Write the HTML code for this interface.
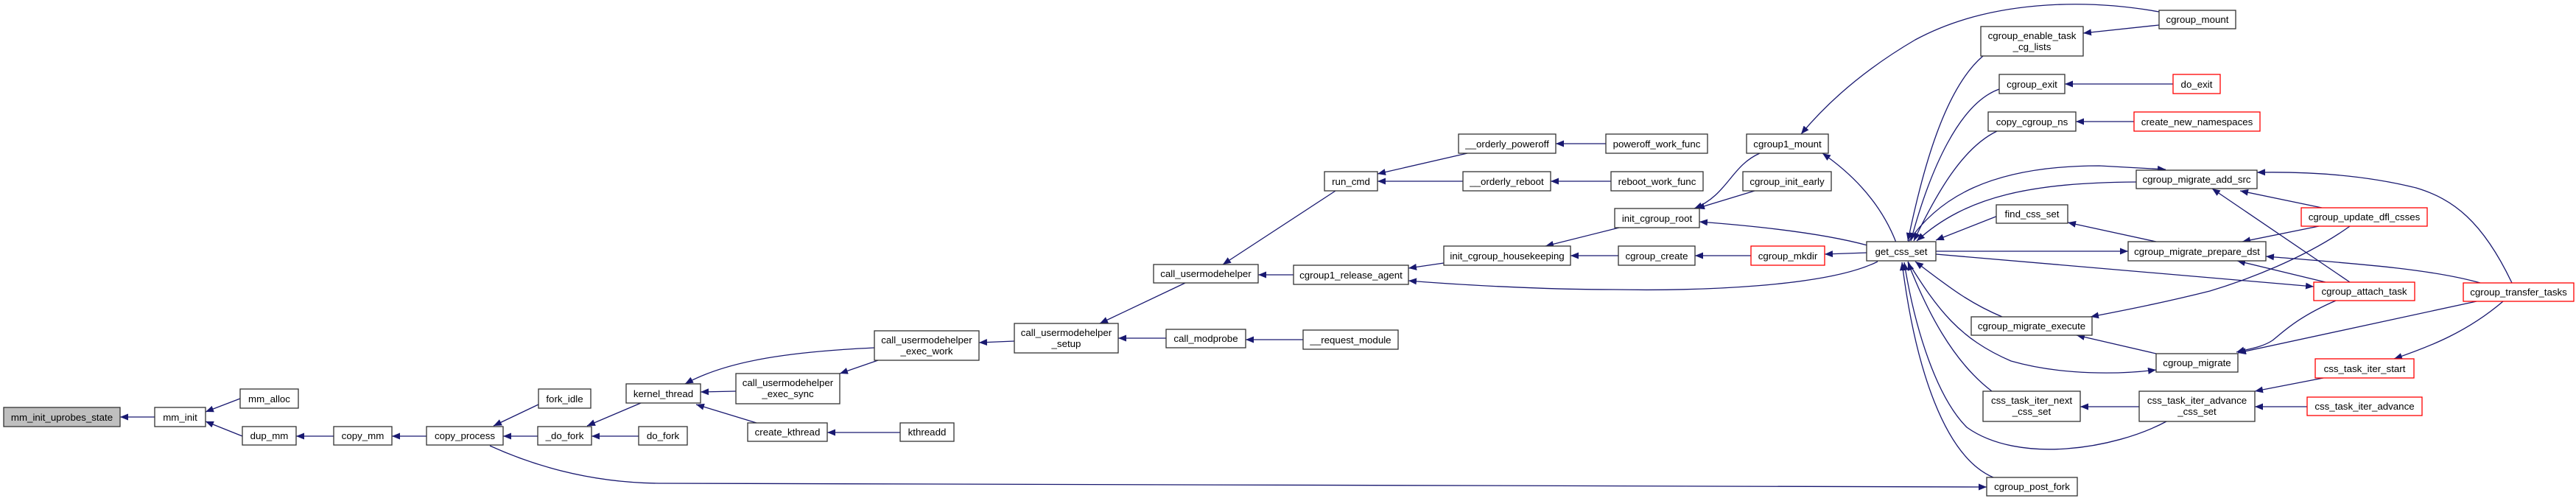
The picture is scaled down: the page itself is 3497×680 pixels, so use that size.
<!DOCTYPE html>
<html><head><meta charset="utf-8"><style>
html,body{margin:0;padding:0;background:#fff;}
svg{display:block;}
text{font-family:"Liberation Sans",sans-serif;font-size:13.3px;fill:#000;text-anchor:middle;}
.b{fill:#fff;stroke:#333;stroke-width:1.3;}
.r{fill:#fff;stroke:#ff0000;stroke-width:1.3;}
.g{fill:#bfbfbf;stroke:#333;stroke-width:1.3;}
.e{fill:none;stroke:#191970;stroke-width:1.3;marker-end:url(#a);}
</style></head><body>
<svg width="3497" height="680" viewBox="0 0 3497 680" xmlns="http://www.w3.org/2000/svg">
<defs><marker id="a" markerUnits="userSpaceOnUse" markerWidth="12" markerHeight="10" refX="11" refY="4.5" orient="auto"><path d="M0,0 L11,4.5 L0,9 z" fill="#191970"/></marker></defs>
<g>
<path class="e" d="M210,566 L163,566"/>
<path class="e" d="M326,541 L279,559"/>
<path class="e" d="M329,592 L279,572"/>
<path class="e" d="M453,592 L402,592"/>
<path class="e" d="M579,592 L532,592"/>
<path class="e" d="M731,549 L670,578"/>
<path class="e" d="M730,592 L683,592"/>
<path class="e" d="M665,605 C720,630 800,656 900,656 L2697,661"/>
<path class="e" d="M867,592 L803,592"/>
<path class="e" d="M870,547 L797,578"/>
<path class="e" d="M999,531 L951,532"/>
<path class="e" d="M1027,574 L945,549"/>
<path class="e" d="M1222,587 L1123,587"/>
<path class="e" d="M1187,472 C1080,477 990,488 930,521"/>
<path class="e" d="M1192,489 L1140,507"/>
<path class="e" d="M1377,463 L1329,465"/>
<path class="e" d="M1609,384 L1493,439"/>
<path class="e" d="M1583,459 L1518,459"/>
<path class="e" d="M1813,259 L1660,359"/>
<path class="e" d="M1756,373 L1708,373"/>
<path class="e" d="M1769,461 L1691,461"/>
<path class="e" d="M1992,208 L1870,236"/>
<path class="e" d="M1986,246 L1870,246"/>
<path class="e" d="M2180,195 L2112,195"/>
<path class="e" d="M2187,246 L2105,246"/>
<path class="e" d="M1960,357 L1912,364"/>
<path class="e" d="M2549,355 C2480,390 2300,395 2190,393 C2080,393 1960,385 1912,381"/>
<path class="e" d="M2198,309 L2098,334"/>
<path class="e" d="M2197,347 L2132,347"/>
<path class="e" d="M2377,347 L2301,347"/>
<path class="e" d="M2535,343 L2477,345"/>
<path class="e" d="M2535,333 C2480,318 2400,308 2307,301"/>
<path class="e" d="M2389,208 C2350,225 2345,265 2300,283"/>
<path class="e" d="M2382,259 L2303,283"/>
<path class="e" d="M2574,329 C2555,280 2520,240 2474,208"/>
<path class="e" d="M2931,16 C2830,-2 2700,0 2600,54 C2530,95 2480,140 2445,182"/>
<path class="e" d="M2931,34 L2828,45"/>
<path class="e" d="M2950,114 L2803,114"/>
<path class="e" d="M2897,165 L2818,165"/>
<path class="e" d="M2692,76 C2640,120 2610,230 2590,327"/>
<path class="e" d="M2714,121 C2660,140 2620,230 2594,327"/>
<path class="e" d="M2711,178 C2665,200 2630,260 2598,327"/>
<path class="e" d="M2900,247 C2760,248 2670,265 2602,327"/>
<path class="e" d="M2590,329 C2630,270 2700,225 2850,225 L2940,230"/>
<path class="e" d="M2712,293 L2628,326"/>
<path class="e" d="M2628,341 L2889,341"/>
<path class="e" d="M2628,345 L3141,389"/>
<path class="e" d="M2718,430 C2670,410 2640,385 2600,355"/>
<path class="e" d="M2590,355 C2630,420 2660,460 2730,490 C2800,510 2880,508 2927,502"/>
<path class="e" d="M2704,531 C2650,490 2615,420 2590,356"/>
<path class="e" d="M2941,572 C2870,610 2740,630 2670,580 C2630,540 2600,450 2585,356"/>
<path class="e" d="M2706,648 C2640,620 2600,500 2582,356"/>
<path class="e" d="M2927,328 L2807,302"/>
<path class="e" d="M3148,307 L3044,328"/>
<path class="e" d="M3152,282 L3041,259"/>
<path class="e" d="M3190,307 C3130,350 3050,380 3000,395 C2940,410 2890,420 2838,430"/>
<path class="e" d="M3190,383 L3003,256"/>
<path class="e" d="M3157,383 L3037,354"/>
<path class="e" d="M3171,408 C3120,430 3100,450 3085,462 C3070,472 3050,474 3036,478"/>
<path class="e" d="M3410,384 C3370,300 3330,270 3280,255 C3200,235 3120,233 3064,234"/>
<path class="e" d="M3367,384 C3300,365 3200,358 3076,348"/>
<path class="e" d="M3362,409 L3038,479"/>
<path class="e" d="M3398,409 C3350,450 3300,470 3250,487"/>
<path class="e" d="M3154,513 L3061,531"/>
<path class="e" d="M3132,552 L3061,552"/>
<path class="e" d="M2904,552 L2824,552"/>
<path class="e" d="M2927,480 L2819,455"/>
</g>
<g>
<rect class="g" x="5" y="553" width="158" height="26"/><text x="84" y="571">mm_init_uprobes_state</text>
<rect class="b" x="210" y="553" width="69" height="26"/><text x="244.5" y="571">mm_init</text>
<rect class="b" x="326" y="528" width="79" height="26"/><text x="365.5" y="546">mm_alloc</text>
<rect class="b" x="329" y="579" width="73" height="25"/><text x="365.5" y="596">dup_mm</text>
<rect class="b" x="453" y="579" width="79" height="25"/><text x="492.5" y="596">copy_mm</text>
<rect class="b" x="579" y="579" width="104" height="25"/><text x="631" y="596">copy_process</text>
<rect class="b" x="731" y="528" width="71" height="26"/><text x="766.5" y="546">fork_idle</text>
<rect class="b" x="730" y="579" width="73" height="25"/><text x="766.5" y="596">_do_fork</text>
<rect class="b" x="867" y="579" width="66" height="25"/><text x="900" y="596">do_fork</text>
<rect class="b" x="850" y="521" width="101" height="26"/><text x="900.5" y="539">kernel_thread</text>
<rect class="b" x="999" y="507" width="141" height="41"/><text x="1069.5" y="524">call_usermodehelper</text><text x="1069.5" y="539">_exec_sync</text>
<rect class="b" x="1015" y="574" width="108" height="25"/><text x="1069" y="591">create_kthread</text>
<rect class="b" x="1222" y="574" width="73" height="25"/><text x="1258.5" y="591">kthreadd</text>
<rect class="b" x="1187" y="449" width="142" height="40"/><text x="1258" y="466">call_usermodehelper</text><text x="1258" y="481">_exec_work</text>
<rect class="b" x="1377" y="439" width="141" height="40"/><text x="1447.5" y="456">call_usermodehelper</text><text x="1447.5" y="471">_setup</text>
<rect class="b" x="1566" y="359" width="142" height="25"/><text x="1637" y="376">call_usermodehelper</text>
<rect class="b" x="1583" y="447" width="108" height="25"/><text x="1637" y="464">call_modprobe</text>
<rect class="b" x="1769" y="448" width="129" height="26"/><text x="1833.5" y="466">__request_module</text>
<rect class="b" x="1798" y="233" width="72" height="26"/><text x="1834" y="251">run_cmd</text>
<rect class="b" x="1980" y="182" width="132" height="26"/><text x="2046" y="200">__orderly_poweroff</text>
<rect class="b" x="2180" y="182" width="138" height="26"/><text x="2249" y="200">poweroff_work_func</text>
<rect class="b" x="1986" y="233" width="119" height="26"/><text x="2045.5" y="251">__orderly_reboot</text>
<rect class="b" x="2187" y="233" width="125" height="26"/><text x="2249.5" y="251">reboot_work_func</text>
<rect class="b" x="1756" y="360" width="156" height="26"/><text x="1834" y="378">cgroup1_release_agent</text>
<rect class="b" x="1960" y="334" width="172" height="26"/><text x="2046" y="352">init_cgroup_housekeeping</text>
<rect class="b" x="2197" y="334" width="104" height="26"/><text x="2249" y="352">cgroup_create</text>
<rect class="r" x="2377" y="334" width="100" height="26"/><text x="2427" y="352">cgroup_mkdir</text>
<rect class="b" x="2192" y="283" width="115" height="26"/><text x="2249.5" y="301">init_cgroup_root</text>
<rect class="b" x="2371" y="182" width="111" height="26"/><text x="2426.5" y="200">cgroup1_mount</text>
<rect class="b" x="2366" y="233" width="120" height="26"/><text x="2426" y="251">cgroup_init_early</text>
<rect class="b" x="2534" y="328" width="94" height="26"/><text x="2581" y="346">get_css_set</text>
<rect class="b" x="2931" y="14" width="104" height="25"/><text x="2983" y="31">cgroup_mount</text>
<rect class="b" x="2689" y="36" width="139" height="40"/><text x="2758.5" y="53">cgroup_enable_task</text><text x="2758.5" y="68">_cg_lists</text>
<rect class="b" x="2714" y="101" width="89" height="26"/><text x="2758.5" y="119">cgroup_exit</text>
<rect class="r" x="2950" y="101" width="64" height="26"/><text x="2982" y="119">do_exit</text>
<rect class="b" x="2699" y="152" width="119" height="26"/><text x="2758.5" y="170">copy_cgroup_ns</text>
<rect class="r" x="2897" y="152" width="171" height="26"/><text x="2982.5" y="170">create_new_namespaces</text>
<rect class="b" x="2900" y="231" width="164" height="25"/><text x="2982" y="248">cgroup_migrate_add_src</text>
<rect class="b" x="2710" y="278" width="97" height="25"/><text x="2758.5" y="295">find_css_set</text>
<rect class="r" x="3124" y="282" width="171" height="25"/><text x="3209.5" y="299">cgroup_update_dfl_csses</text>
<rect class="b" x="2889" y="328" width="187" height="26"/><text x="2982.5" y="346">cgroup_migrate_prepare_dst</text>
<rect class="r" x="3141" y="383" width="137" height="25"/><text x="3209.5" y="400">cgroup_attach_task</text>
<rect class="r" x="3344" y="384" width="150" height="25"/><text x="3419" y="401">cgroup_transfer_tasks</text>
<rect class="b" x="2676" y="430" width="164" height="25"/><text x="2758" y="447">cgroup_migrate_execute</text>
<rect class="b" x="2927" y="480" width="111" height="25"/><text x="2982.5" y="497">cgroup_migrate</text>
<rect class="r" x="3143" y="487" width="134" height="26"/><text x="3210" y="505">css_task_iter_start</text>
<rect class="b" x="2692" y="531" width="132" height="41"/><text x="2758" y="548">css_task_iter_next</text><text x="2758" y="563">_css_set</text>
<rect class="b" x="2904" y="531" width="157" height="41"/><text x="2982.5" y="548">css_task_iter_advance</text><text x="2982.5" y="563">_css_set</text>
<rect class="r" x="3132" y="539" width="156" height="25"/><text x="3210" y="556">css_task_iter_advance</text>
<rect class="b" x="2697" y="648" width="123" height="25"/><text x="2758.5" y="665">cgroup_post_fork</text>
</g>
</svg>
</body></html>
